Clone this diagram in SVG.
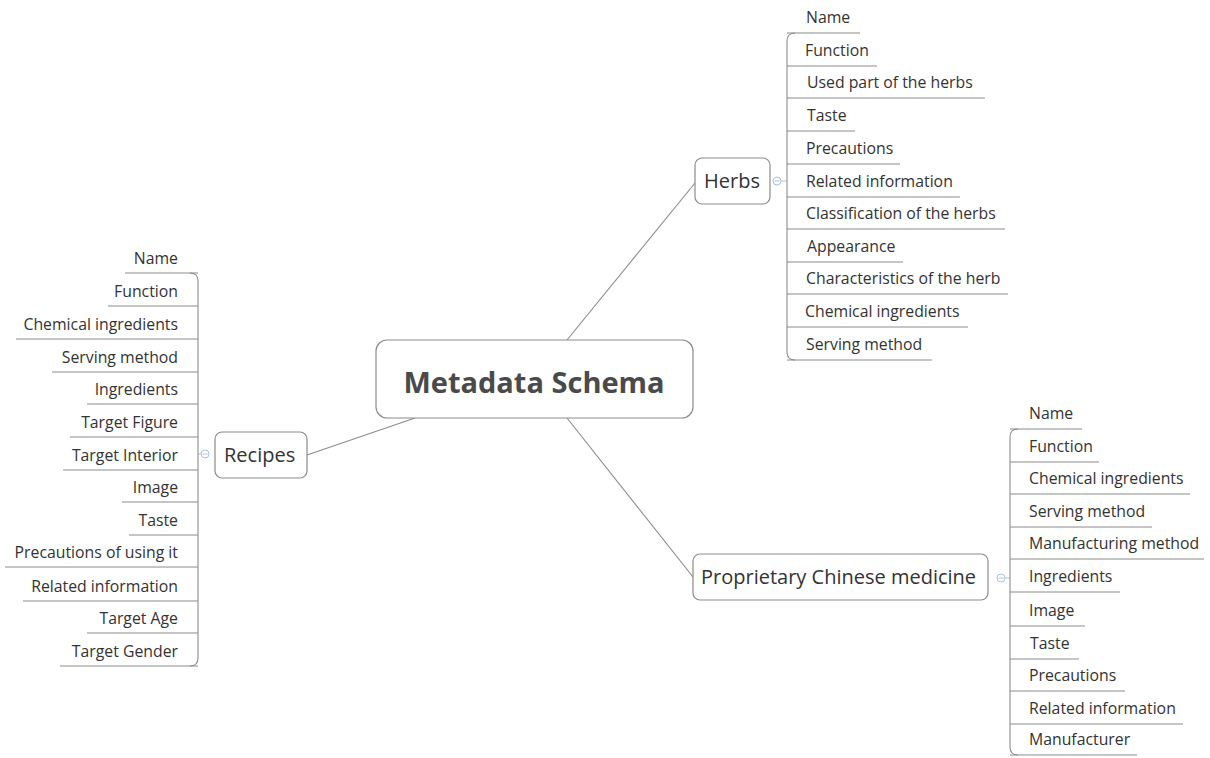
<svg xmlns="http://www.w3.org/2000/svg" width="1210" height="758" viewBox="0 0 1210 758">
<style>
.box{fill:#fff;stroke:#8c8c8c;stroke-width:1.2}
.ln{fill:none;stroke:#8c8c8c;stroke-width:1.1}
.t{font-family:"Open Sans","Liberation Sans",sans-serif;font-size:15.8px;fill:#333}
.r{text-anchor:end}
.main{font-family:"Open Sans","Liberation Sans",sans-serif;font-size:29px;font-weight:bold;fill:#4a4a4a;text-anchor:middle}
.sub{font-family:"Open Sans","Liberation Sans",sans-serif;font-size:20px;fill:#333}
.col{fill:#fff;stroke:#a9c3e3;stroke-width:1}
.colm{stroke:#a9c3e3;stroke-width:1}
</style>
<rect width="1210" height="758" fill="#fff"/>
<g id="connectors">
<path class="ln" d="M567 340 L695 183"/>
<path class="ln" d="M307 455 L415 418"/>
<path class="ln" d="M567 418 L693 577"/>
</g>
<g id="central">
<rect class="box" x="376" y="340" width="317" height="78" rx="11"/>
<text class="main" x="534" y="393">Metadata Schema</text>
</g>
<g id="herbs">
<rect class="box" x="695" y="158" width="75" height="46" rx="7"/>
<text class="sub" x="704" y="188">Herbs</text>
<path class="colm" d="M781 181 H787"/>
<circle class="col" cx="777" cy="181" r="4"/>
<line class="colm" x1="774.5" y1="181" x2="779.5" y2="181"/>
<g id="herbs-children">
<path class="ln" d="M795 33 Q787 33 787 41 V352 Q787 360 795 360"/>
<path class="ln" d="M787 33 H860 M787 66 H877 M787 98 H985 M787 131 H855 M787 164 H900 M787 197 H960 M787 229 H1005 M787 262 H903 M787 294 H1008 M787 327 H968 M787 360 H932"/>
<text class="t" x="806" y="23">Name</text>
<text class="t" x="805" y="56">Function</text>
<text class="t" x="807" y="88">Used part of the herbs</text>
<text class="t" x="807" y="121">Taste</text>
<text class="t" x="806" y="154">Precautions</text>
<text class="t" x="806" y="187">Related information</text>
<text class="t" x="806" y="219">Classification of the herbs</text>
<text class="t" x="807" y="252">Appearance</text>
<text class="t" x="806" y="284">Characteristics of the herb</text>
<text class="t" x="805" y="317">Chemical ingredients</text>
<text class="t" x="806" y="350">Serving method</text>
</g>
</g>
<g id="recipes">
<rect class="box" x="215" y="432" width="92" height="46" rx="7"/>
<text class="sub" x="224" y="462">Recipes</text>
<path class="colm" d="M198 454 H201"/>
<circle class="col" cx="205" cy="454" r="4"/>
<line class="colm" x1="202.5" y1="454" x2="207.5" y2="454"/>
<g id="recipes-children">
<path class="ln" d="M190 273 Q198 273 198 281 V658 Q198 666 190 666"/>
<path class="ln" d="M198 273 H125 M198 306 H108 M198 339 H16 M198 372 H52 M198 404 H87 M198 437 H70 M198 470 H63 M198 502 H122 M198 535 H129 M198 567 H5 M198 601 H23 M198 633 H87 M198 666 H60"/>
<text class="t r" x="178" y="264">Name</text>
<text class="t r" x="178" y="297">Function</text>
<text class="t r" x="178" y="330">Chemical ingredients</text>
<text class="t r" x="178" y="363">Serving method</text>
<text class="t r" x="178" y="395">Ingredients</text>
<text class="t r" x="178" y="428">Target Figure</text>
<text class="t r" x="178" y="461">Target Interior</text>
<text class="t r" x="178" y="493">Image</text>
<text class="t r" x="178" y="526">Taste</text>
<text class="t r" x="178" y="558">Precautions of using it</text>
<text class="t r" x="178" y="592">Related information</text>
<text class="t r" x="178" y="624">Target Age</text>
<text class="t r" x="178" y="657">Target Gender</text>
</g>
</g>
<g id="proprietary">
<rect class="box" x="693" y="554" width="295" height="46" rx="7"/>
<text class="sub" x="701" y="584">Proprietary Chinese medicine</text>
<path class="colm" d="M1005 578 H1010"/>
<circle class="col" cx="1001" cy="578" r="4"/>
<line class="colm" x1="998.5" y1="578" x2="1003.5" y2="578"/>
<g id="proprietary-children">
<path class="ln" d="M1018 429 Q1010 429 1010 437 V747 Q1010 755 1018 755"/>
<path class="ln" d="M1010 429 H1082 M1010 462 H1099 M1010 494 H1190 M1010 527 H1152 M1010 559 H1204 M1010 592 H1120 M1010 626 H1085 M1010 659 H1079 M1010 691 H1125 M1010 724 H1183 M1010 755 H1137"/>
<text class="t" x="1029" y="419">Name</text>
<text class="t" x="1029" y="452">Function</text>
<text class="t" x="1029" y="484">Chemical ingredients</text>
<text class="t" x="1029" y="517">Serving method</text>
<text class="t" x="1029" y="549">Manufacturing method</text>
<text class="t" x="1029" y="582">Ingredients</text>
<text class="t" x="1029" y="616">Image</text>
<text class="t" x="1030" y="649">Taste</text>
<text class="t" x="1029" y="681">Precautions</text>
<text class="t" x="1029" y="714">Related information</text>
<text class="t" x="1029" y="745">Manufacturer</text>
</g>
</g>
</svg>
